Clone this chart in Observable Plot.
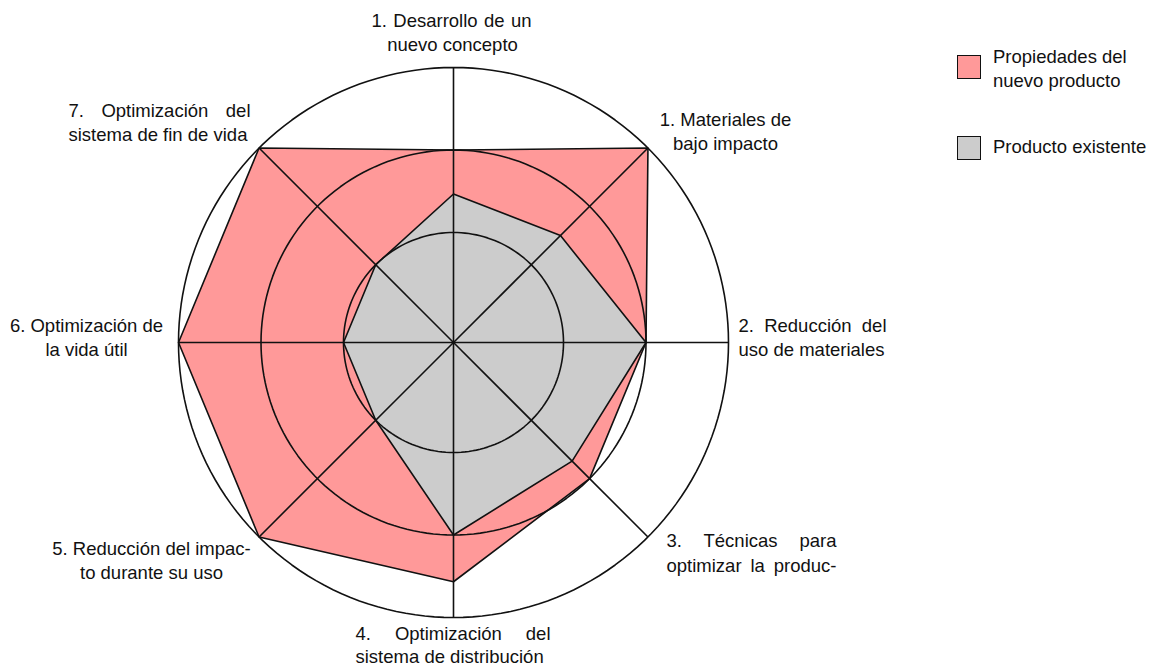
<!DOCTYPE html>
<html><head><meta charset="utf-8">
<script src="https://cdn.jsdelivr.net/npm/d3@7"></script>
<script src="https://cdn.jsdelivr.net/npm/@observablehq/plot@0.6"></script>
<style>
html,body{margin:0;padding:0;background:#fff;}
#wrap{position:relative;width:1151px;height:667px;font-family:"Liberation Sans",Arial,sans-serif;font-size:18.5px;color:#111;}
.sw{position:absolute;width:22px;height:22px;border:1.5px solid #111;box-sizing:content-box;}
.lt{position:absolute;line-height:24px;white-space:nowrap;}
</style></head><body><div id="wrap"></div>
<script>
// ---- data ----
const axisNames = [
  "1. Desarrollo de un nuevo concepto",
  "1. Materiales de bajo impacto",
  "2. Reducción del uso de materiales",
  "3. Técnicas para optimizar la produc-",
  "4. Optimización del sistema de distribución",
  "5. Reducción del impacto durante su uso",
  "6. Optimización de la vida útil",
  "7. Optimización del sistema de fin de vida"
];
const seriesNames = ["Propiedades del nuevo producto", "Producto existente"];
const nuevoProducto = [3.5, 5, 3.5, 3.5, 4.35, 5, 5, 5];
const productoExistente = [2.7, 2.75, 3.5, 3.05, 3.5, 2, 2, 2];
const ringValues = [2, 3.5, 5];
const maxValue = 5;

// ---- label layout (pixel layout, not data) ----
const labelLines = [
  {t:"1. Desarrollo de un", x:371, y:26, a:"start", w:160},
  {t:"nuevo concepto", x:452, y:50, a:"middle"},
  {t:"1. Materiales de", x:725, y:125, a:"middle"},
  {t:"bajo impacto", x:725, y:149, a:"middle"},
  {t:"2. Reducción del", x:738, y:331, a:"start", w:148},
  {t:"uso de materiales", x:738, y:355, a:"start"},
  {t:"3. Técnicas para", x:666, y:546, a:"start", w:170},
  {t:"optimizar la produc-", x:666, y:571, a:"start", w:170},
  {t:"4. Optimización del", x:355, y:639, a:"start", w:195},
  {t:"sistema de distribución", x:355, y:662, a:"start"},
  {t:"5. Reducción del impac-", x:151, y:554, a:"middle"},
  {t:"to durante su uso", x:151, y:578, a:"middle"},
  {t:"6. Optimización de", x:86, y:331, a:"middle"},
  {t:"la vida útil", x:86, y:355, a:"middle"},
  {t:"7. Optimización del", x:68, y:116, a:"start", w:182},
  {t:"sistema de fin de vida", x:68, y:140, a:"start"}
];
const cx = 453, cy = 342, R = 275;
const FONT = '"Liberation Sans", Arial, sans-serif';
const FS = 18.5;

const n = axisNames.length;
const ang = i => i * 2 * Math.PI / n;
const toPts = (vals, s) => vals.map((v, i) => ({s, i, x: v * Math.sin(ang(i)), y: v * Math.cos(ang(i))}));
const ringPts = ringValues.flatMap(rv => d3.range(0, 361, 2).map(k => ({rv, x: rv * Math.sin(k * Math.PI / 180), y: rv * Math.cos(k * Math.PI / 180)})));

const marks = [
  Plot.line(toPts(nuevoProducto, seriesNames[0]), {x:"x", y:"y", curve:"linear-closed", fill:"#ff9999", stroke:"#111", strokeWidth:1.6}),
  Plot.line(toPts(productoExistente, seriesNames[1]), {x:"x", y:"y", curve:"linear-closed", fill:"#cccccc", stroke:"#111", strokeWidth:1.6}),
  Plot.line(ringPts, {x:"x", y:"y", z:"rv", stroke:"#111", strokeWidth:1.6}),
  Plot.link(d3.range(n), {x1:0, y1:0, x2:i => maxValue * Math.sin(ang(i)), y2:i => maxValue * Math.cos(ang(i)), stroke:"#111", strokeWidth:1.6})
];
for (const L of labelLines) {
  marks.push(Plot.text([L.t], {text:d => d, frameAnchor:"top-left", dx:L.x, dy:L.y, textAnchor:L.a, lineAnchor:"bottom", fontSize:FS, fill:"#111"}));
}

const chart = Plot.plot({
  width: 1151, height: 667,
  margin: 0,
  x: {domain:[-maxValue, maxValue], range:[cx - R, cx + R], axis:null},
  y: {domain:[-maxValue, maxValue], range:[cy + R, cy - R], axis:null},
  style: {fontFamily: FONT, background:"#fff", overflow:"visible"},
  marks
});
const wrap = document.getElementById("wrap");
wrap.appendChild(chart);

// justify lines
const jmap = new Map(labelLines.filter(l => l.w).map(l => [l.t, l.w]));
d3.select(chart).selectAll("text").each(function() {
  const t = this.textContent;
  if (!jmap.has(t)) return;
  const len = this.getComputedTextLength();
  const spaces = (t.match(/ /g) || []).length;
  if (spaces > 0) this.setAttribute("word-spacing", Math.max(0, (jmap.get(t) - len) / spaces));
});

// legend
const colors = ["#ff9999", "#cccccc"];
const legendLayout = [{top:55, textTop:45, lines:["Propiedades del", "nuevo producto"]}, {top:136, textTop:135, lines:["Producto existente"]}];
legendLayout.forEach((L, k) => {
  const sw = document.createElement("div");
  sw.className = "sw"; sw.style.left = "957px"; sw.style.top = L.top + "px"; sw.style.background = colors[k];
  wrap.appendChild(sw);
  const tx = document.createElement("div");
  tx.className = "lt"; tx.style.left = "993px"; tx.style.top = L.textTop + "px";
  tx.innerHTML = L.lines.join("<br>");
  wrap.appendChild(tx);
});
</script></body></html>
